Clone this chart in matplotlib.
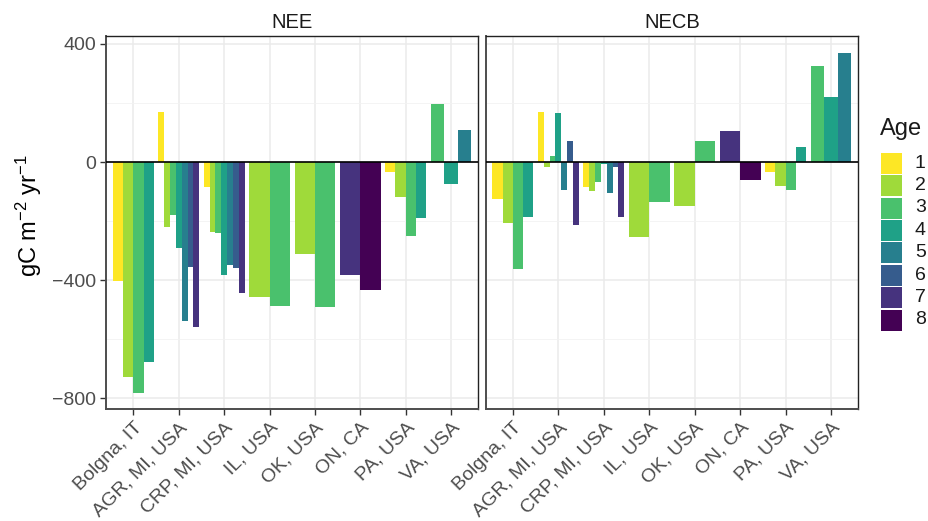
import numpy as np
import matplotlib.pyplot as plt
from matplotlib.patches import Rectangle

plt.rcParams['font.family'] = ['Liberation Sans', 'DejaVu Sans']
plt.rcParams['mathtext.fontset'] = 'custom'
plt.rcParams['mathtext.rm'] = 'Liberation Sans'
plt.rcParams['mathtext.it'] = 'Liberation Sans'
plt.rcParams['mathtext.default'] = 'regular'

# sitios y edades (formato largo)
sites = ['Bolgna, IT', 'AGR, MI, USA', 'CRP, MI, USA', 'IL, USA',
         'OK, USA', 'ON, CA', 'PA, USA', 'VA, USA']
site = ['Bolgna, IT'] * 4 + ['AGR, MI, USA'] * 7 + ['CRP, MI, USA'] * 7 + \
       ['IL, USA'] * 2 + ['OK, USA'] * 2 + ['ON, CA'] * 2 + ['PA, USA'] * 4 + ['VA, USA'] * 3
age = [1, 2, 3, 4,
       1, 2, 3, 4, 5, 6, 7,
       1, 2, 3, 4, 5, 6, 7,
       2, 3,
       2, 3,
       7, 8,
       1, 2, 3, 4,
       3, 4, 5]
nee = [-403, -727, -781, -677,
       168, -220, -179, -292, -538, -356, -558,
       -85, -237, -240, -382, -348, -359, -443,
       -457, -487,
       -311, -490,
       -382, -433,
       -34, -118, -250, -189,
       198, -74, 110]
necb = [-125, -206, -362, -186,
        168, -17, 22, 165, -95, 73, -213,
        -85, -98, -68, -7, -105, -17, -186,
        -254, -135,
        -149, 70,
        104, -61,
        -34, -81, -95, 50,
        327, 219, 368]

ages = [1, 2, 3, 4, 5, 6, 7, 8]
# viridis invertido
colores = ['#FDE725', '#9FDA3A', '#4AC16D', '#1FA187',
           '#277F8E', '#365C8D', '#46337E', '#440154']

W, H = 929, 521
fig = plt.figure(figsize=(W / 100, H / 100), dpi=100)
ax1 = fig.add_axes([0.1144, 0.2144, 0.4004, 0.716])
ax2 = fig.add_axes([0.5228, 0.2144, 0.4010, 0.716])

site = np.array(site)
age = np.array(age)


def dibujar(ax, valores, titulo):
    valores = np.array(valores)
    for i, s in enumerate(sites):
        idx = np.where(site == s)[0]
        n = len(idx)
        w = 0.9 / n
        for k, j in enumerate(idx):
            x = i + 1 + (k - (n - 1) / 2) * w
            ax.bar(x, valores[j], width=w, color=colores[age[j] - 1], zorder=3)
    ax.axhline(0, color='black', lw=1.2, zorder=4)
    ax.set_xlim(0.4, 8.6)
    ax.set_ylim(-837, 426)
    ax.set_xticks(range(1, 9))
    ax.set_xticklabels(sites, rotation=45, ha='right', rotation_mode='anchor',
                       fontsize=14, color='#4D4D4D')
    ax.set_yticks([-800, -400, 0, 400])
    ax.set_yticks([-600, -200, 200], minor=True)
    ax.tick_params(axis='both', which='major', length=4, color='#333333', labelsize=14,
                   labelcolor='#4D4D4D', width=1)
    ax.tick_params(axis='x', which='major', pad=3)
    ax.tick_params(axis='y', which='minor', length=0)
    ax.grid(True, which='major', color='#EBEBEB', lw=1.1, zorder=0)
    ax.grid(True, which='minor', axis='y', color='#F2F2F2', lw=0.6, zorder=0)
    for sp in ax.spines.values():
        sp.set_color('#222222')
        sp.set_linewidth(1.0)
    ax.spines['left'].set_linewidth(1.4)
    ax.spines['bottom'].set_linewidth(1.4)
    ax.spines['left'].set_color('#4D4D4D')
    ax.spines['bottom'].set_color('#4D4D4D')
    ax.set_title(titulo, fontsize=14.5, color='#1A1A1A', pad=6)


dibujar(ax1, nee, 'NEE')
dibujar(ax2, necb, 'NECB')
ax2.tick_params(axis='y', labelleft=False, length=0)
ax1.set_ylabel(r'gC m$^{-2}$ yr$^{-1}$', fontsize=17)
ax1.yaxis.set_label_coords(-0.168, 0.52)

# leyenda dibujada a mano
fig.text(880 / W, 1 - 129 / H, 'Age', fontsize=17, ha='left', va='center', color='#1A1A1A')
for i, (a, c) in enumerate(zip(ages, colores)):
    top = 152.7 + i * 22.4
    fig.patches.append(Rectangle((881 / W, 1 - (top + 21) / H), 21 / W, 21 / H,
                                 transform=fig.transFigure, facecolor=c, edgecolor='none'))
    fig.text(915 / W, 1 - (top + 10.5) / H, str(a), fontsize=14, ha='left', va='center',
             color='#1A1A1A')

fig.savefig('out.png', dpi=100)
